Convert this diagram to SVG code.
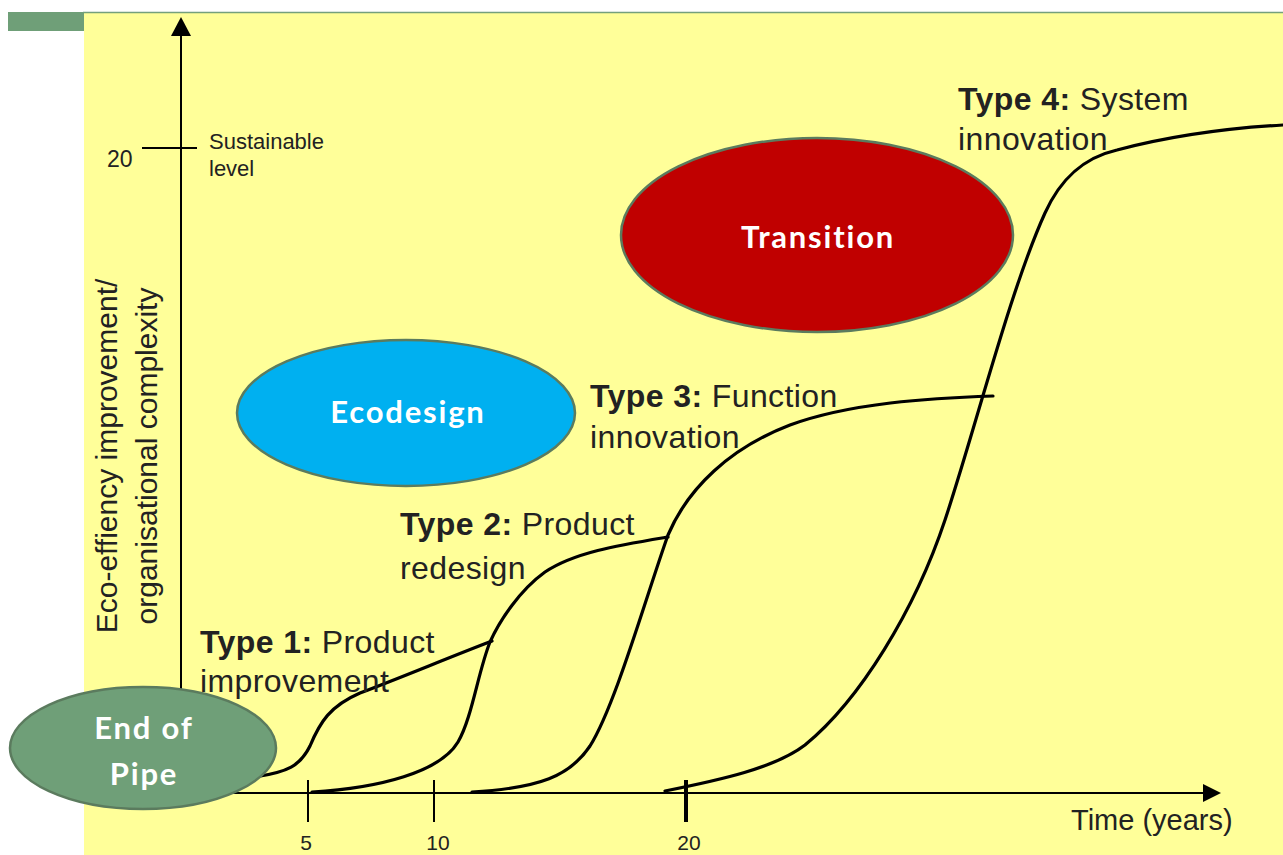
<svg xmlns="http://www.w3.org/2000/svg" width="1283" height="855" viewBox="0 0 1283 855">
  <style>
    .lbl { font-family: "Liberation Sans", Arial, sans-serif; fill: #222; font-size: 32px; letter-spacing: 0.4px; }
    .lbl .b { font-weight: bold; }
    .small { font-family: "Liberation Sans", Arial, sans-serif; fill: #222; }
    .oval-text { font-family: Lato, "Open Sans", sans-serif; font-weight: bold; fill: #fff; font-size: 31px; text-anchor: middle; letter-spacing: 1.8px; }
    .oval { stroke: #5b7b5e; stroke-width: 2.5; }
    .curve { fill: none; stroke: #000; stroke-width: 3.2; stroke-linecap: round; stroke-linejoin: round; }
    .axis { fill: none; stroke: #000; stroke-width: 2; }
    .tick { stroke: #000; stroke-width: 2; }
  </style>

  <!-- page background and header band -->
  <rect x="0" y="0" width="1283" height="855" fill="#ffffff"/>
  <rect x="84" y="12" width="1199" height="843" fill="#ffff99"/>
  <line x1="83" y1="12.5" x2="1283" y2="12.5" stroke="#74a07c" stroke-width="1.5"/>
  <rect x="8" y="12" width="76" height="19" fill="#6f9f78"/>

  <!-- axes -->
  <g id="axes">
    <line class="axis" x1="181" y1="793" x2="181" y2="36"/>
    <path d="M181,17 L171,36 L191,36 z" fill="#000"/>
    <line class="axis" x1="181" y1="793" x2="1203" y2="793"/>
    <path d="M1221,793 L1203,784 L1203,802 z" fill="#000"/>
    <!-- ticks -->
    <line class="tick" x1="142" y1="148" x2="197" y2="148"/>
    <line class="tick" x1="308" y1="780" x2="308" y2="822"/>
    <line class="tick" x1="434" y1="780" x2="434" y2="822"/>
    <line x1="686" y1="780" x2="686" y2="822" stroke="#000" stroke-width="4"/>
    <text class="small" x="107" y="167" font-size="23">20</text>
    <text class="small" x="209" y="149" font-size="22">Sustainable</text>
    <text class="small" x="209" y="176" font-size="22">level</text>
    <text class="small" x="306" y="850" font-size="21" text-anchor="middle">5</text>
    <text class="small" x="438" y="850" font-size="21" text-anchor="middle">10</text>
    <text class="small" x="689" y="850" font-size="21" text-anchor="middle">20</text>
    <text class="small" x="1071" y="830" font-size="29">Time (years)</text>
    <g transform="translate(117,456) rotate(-90)">
      <text class="small" x="0" y="0" font-size="30" text-anchor="middle">Eco-effiency improvement/</text>
      <text class="small" x="0" y="40" font-size="30" text-anchor="middle">organisational complexity</text>
    </g>
  </g>

  <!-- S-curves -->
  <g id="connectors">
    <path class="curve" d="M255,777 C288,772 300,766 310,746 C320,722 330,706 360,693 C400,678 450,657 492,641"/>
    <path class="curve" d="M312,792 C380,788 440,772 458,742 C472,718 478,672 490,642 C500,620 520,590 545,572 C575,552 620,545 668,537"/>
    <path class="curve" d="M472,792 C540,788 570,776 590,746 C615,706 645,600 668,535 C688,488 730,448 790,425 C850,403 930,398 993,396"/>
    <path class="curve" d="M665,791 C720,780 775,768 805,745 C860,700 915,610 945,520 C975,430 1010,290 1045,213 C1060,180 1082,158 1117,150 C1170,136 1230,128 1283,125"/>
  </g>

  <!-- stage labels -->
  <g id="type1">
    <text class="lbl" x="200" y="653"><tspan class="b">Type 1:</tspan> Product</text>
    <text class="lbl" x="200" y="692">improvement</text>
  </g>
  <g id="type2">
    <text class="lbl" x="400" y="535"><tspan class="b">Type 2:</tspan> Product</text>
    <text class="lbl" x="400" y="579">redesign</text>
  </g>
  <g id="type3">
    <text class="lbl" x="590" y="407"><tspan class="b">Type 3:</tspan> Function</text>
    <text class="lbl" x="590" y="448">innovation</text>
  </g>
  <g id="type4">
    <text class="lbl" x="958" y="110"><tspan class="b">Type 4:</tspan> System</text>
    <text class="lbl" x="958" y="150">innovation</text>
  </g>

  <!-- phase ovals -->
  <g id="end-of-pipe">
    <ellipse class="oval" cx="143" cy="748" rx="133" ry="61" fill="#6f9f78"/>
    <text class="oval-text" x="144" y="739">End of</text>
    <text class="oval-text" x="144" y="785">Pipe</text>
  </g>
  <g id="ecodesign">
    <ellipse class="oval" cx="406" cy="413" rx="169" ry="73" fill="#00b0f0"/>
    <text class="oval-text" x="408" y="423">Ecodesign</text>
  </g>
  <g id="transition">
    <ellipse class="oval" cx="817" cy="235" rx="196" ry="97" fill="#c00000"/>
    <text class="oval-text" x="818" y="248">Transition</text>
  </g>
</svg>
